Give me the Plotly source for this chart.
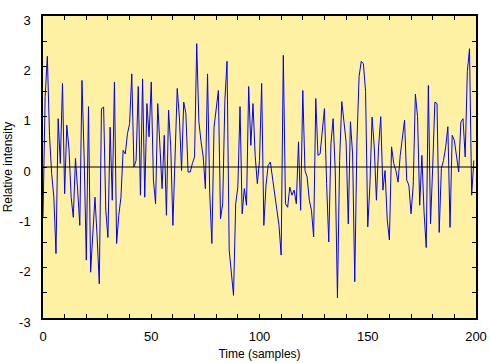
import plotly.graph_objects as go

# Relative intensity per sample
intensity = [
    -1.0, 1.4, 2.2, 0.63, -0.13, -0.6, -1.72, 0.96, 0.07, 1.66,
    -0.53, 0.83, 0.36, -0.6, -1.0, 0.17, -0.46, -1.16, 1.72, 0.2,
    -1.85, 1.2, -2.09, -1.26, -0.6, -1.39, -2.32, 1.16, 1.19, -0.86,
    -1.4, 0.79, -0.66, 1.69, -1.52, -0.96, -0.6, 0.33, 0.26, 0.66,
    0.86, 1.85, 0.0, 0.13, 1.6, -0.56, 1.75, -0.6, 1.26, 0.6,
    1.69, -0.26, -0.73, 1.26, 0.33, -0.43, 0.63, -0.96, 1.13, 0.4,
    -1.16, 0.4, 1.56, 0.99, -0.07, 1.29, 1.06, -0.1, -0.1, 0.07,
    0.2, 2.45, 0.9, 0.5, 0.2, -0.43, 1.85, -0.5, -1.52, 0.79,
    1.19, 1.52, -1.03, -0.73, 1.32, 2.1, -1.65, -2.15, -2.55, -0.73,
    -0.4, 1.2, -0.93, -0.43, -0.76, 1.6, 0.43, 1.26, 0.23, -0.33,
    0.13, 1.66, -1.16, -0.36, 0.03, 0.1, -0.2, -0.46, -0.83, -1.16,
    -1.75, 2.22, -0.73, -0.8, -0.4, -0.56, -0.46, -0.73, 0.5, -0.86,
    1.52, -0.07, -0.2, -0.66, -0.86, -1.39, 1.36, 0.23, 0.26, 0.7,
    1.16, -0.33, -1.49, 0.46, 0.96, -0.1, -2.6, 0.13, 1.3, 0.9,
    0.5, -1.13, 0.9, 0.26, -2.28, 0.5, 1.8, 2.1, 2.05, 1.5,
    -1.19, -0.36, 0.99, 0.4, -0.66, 0.4, 1.0, -0.46, -0.07, -1.05,
    -1.45, 0.4, 0.07, -0.07, -0.3, 0.23, 0.63, 0.93, -0.26, -0.36,
    -0.93, -0.36, 1.45, 1.0, -0.76, 0.23, -0.89, -1.6, 1.62, -1.13,
    0.0, 1.29, 1.26, -1.3, -0.03, 0.13, 0.4, 0.8, -1.2, 0.63,
    0.53, 0.2, -0.1, 0.89, 0.96, 0.2, 1.9, 2.35, -0.56, 0.13,
]
samples = list(range(len(intensity)))

x_ticks = [0, 50, 100, 150, 200]
y_ticks = [-3, -2, -1, 0, 1, 2, 3]

font = dict(family="Liberation Sans, Arial, sans-serif", size=13, color="black")

fig = go.Figure()
fig.add_trace(go.Scatter(
    x=samples, y=intensity, mode="lines",
    line=dict(color="#0000FF", width=1),
    showlegend=False, hoverinfo="skip",
))

fig.update_layout(
    width=490, height=363,
    margin=dict(l=43, r=14, t=16, b=45),
    paper_bgcolor="white",
    plot_bgcolor="#FFF1A3",
    font=font,
    xaxis=dict(
        range=[0, 200], tickvals=x_ticks, ticktext=[str(v) for v in x_ticks],
        ticks="inside", ticklen=4, tickcolor="black",
        minor=dict(dtick=10, tick0=0, ticks="inside", ticklen=4, tickcolor="black", showgrid=False),
        showline=True, linecolor="black", linewidth=1.5, mirror="allticks",
        showgrid=False, zeroline=False, automargin=False,
        ticklabelstandoff=6,
        title=dict(text="Time (samples)", font=dict(size=12), standoff=6),
        tickfont=dict(size=13),
    ),
    yaxis=dict(
        range=[-3, 3], tickvals=y_ticks, ticktext=[str(v) for v in y_ticks],
        ticks="inside", ticklen=4, tickcolor="black",
        minor=dict(dtick=0.5, tick0=0, ticks="inside", ticklen=4, tickcolor="black", showgrid=False),
        showline=True, linecolor="black", linewidth=1.5, mirror="allticks",
        showgrid=False, zeroline=False, automargin=False,
        ticklabelstandoff=8, ticklabelshift=4,
        title=dict(text="Relative intensity", font=dict(size=12), standoff=4),
        tickfont=dict(size=13),
    ),
    shapes=[dict(type="line", xref="paper", x0=0, x1=1, yref="y", y0=0, y1=0,
                 line=dict(color="black", width=1.2), layer="above")],
)

fig.write_html("out.html")
